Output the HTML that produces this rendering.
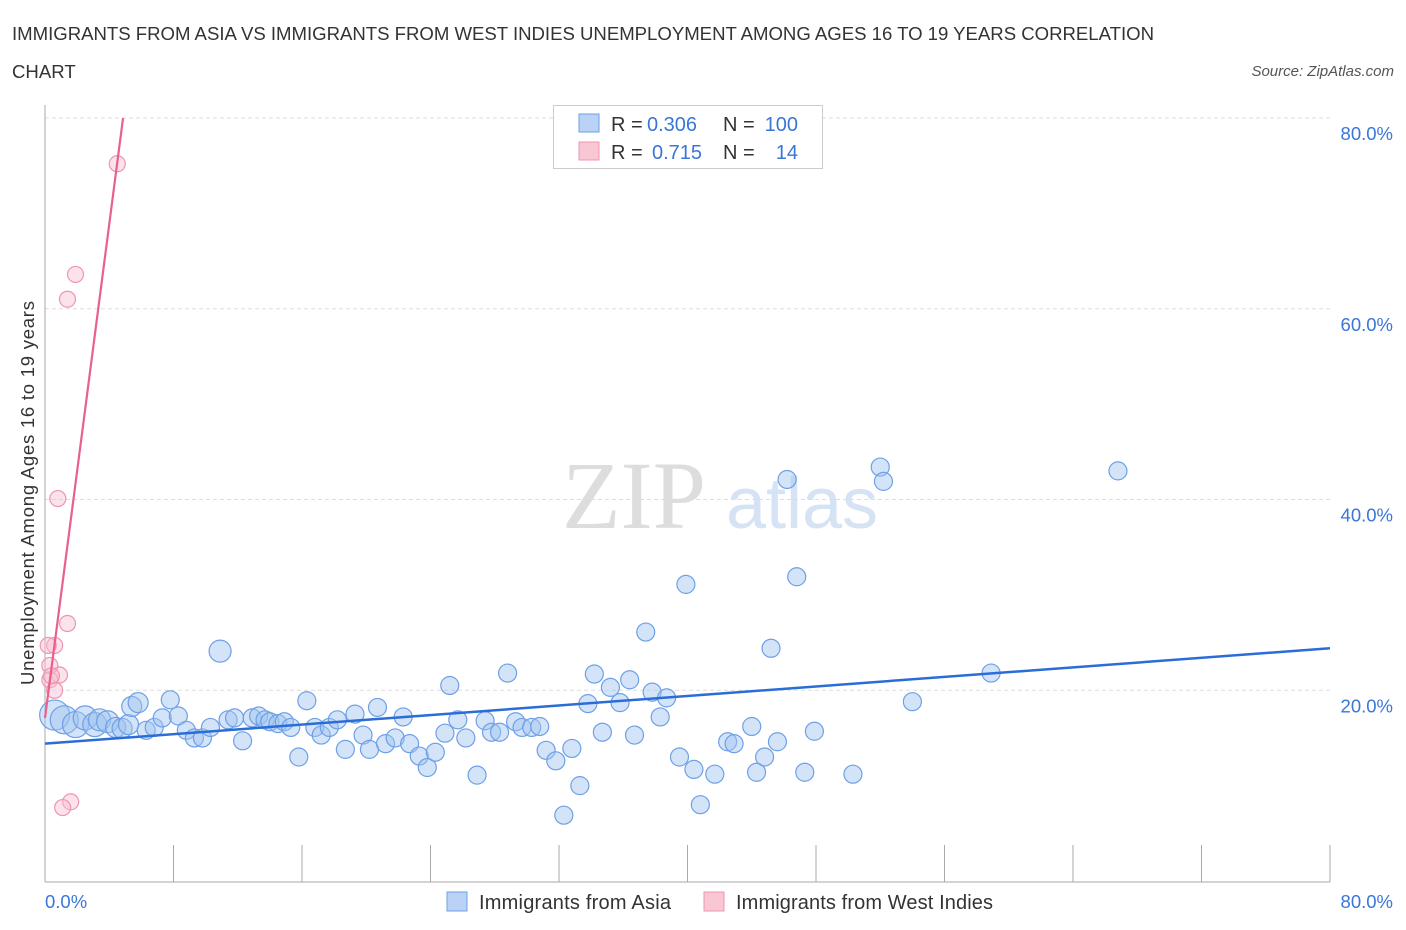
<!DOCTYPE html>
<html><head><meta charset="utf-8"><style>
body{margin:0;background:#fff;font-family:"Liberation Sans",sans-serif}
svg{display:block}
</style></head><body>
<svg id="chart" width="1406" height="930">
<text x="12" y="40" font-size="18.6" fill="#333" textLength="1142">IMMIGRANTS FROM ASIA VS IMMIGRANTS FROM WEST INDIES UNEMPLOYMENT AMONG AGES 16 TO 19 YEARS CORRELATION</text>
<text x="12" y="78" font-size="18.6" fill="#333">CHART</text>
<text x="1394" y="76" font-size="15" fill="#555" font-style="italic" text-anchor="end">Source: ZipAtlas.com</text>
<text x="634" y="528" font-size="96" fill="#ddd" font-family="Liberation Serif,serif" text-anchor="middle">ZIP</text>
<text x="802" y="528" font-size="72" fill="#d6e3f5" text-anchor="middle">atlas</text>
<text transform="translate(34,493) rotate(-90)" font-size="18.5" fill="#333" text-anchor="middle" textLength="384">Unemployment Among Ages 16 to 19 years</text>
<g id="grid"></g><g id="marks"></g>
<g>
<rect x="553.5" y="105.5" width="269" height="63" fill="#fff" stroke="#ccc"/>
<rect x="579" y="114" width="20" height="18" fill="#b9d2f5" stroke="#6ea0e6"/>
<rect x="579" y="142" width="20" height="18" fill="#f9c6d4" stroke="#ee95b1"/>
<g font-size="20" fill="#333">
<text x="611" y="131">R =</text>
<text x="647" y="131" fill="#3a76d8">0.306</text>
<text x="723" y="131">N =</text>
<text x="798" y="131" fill="#3a76d8" text-anchor="end">100</text>
<text x="611" y="159">R =</text>
<text x="652" y="159" fill="#3a76d8">0.715</text>
<text x="723" y="159">N =</text>
<text x="798" y="159" fill="#3a76d8" text-anchor="end">14</text>
</g>
</g>
<g>
<rect x="447" y="892" width="20" height="19" fill="#b9d2f5" stroke="#6ea0e6"/>
<text x="479" y="909" font-size="20" fill="#333" textLength="192">Immigrants from Asia</text>
<rect x="704" y="892" width="20" height="19" fill="#f9c6d4" stroke="#ee95b1"/>
<text x="736" y="909" font-size="20" fill="#333" textLength="257">Immigrants from West Indies</text>
</g>
</svg>
<script>
const asiaX=[0.6,1.2,1.9,2.5,3.1,3.4,3.9,4.4,4.8,5.2,5.4,5.8,6.3,6.8,7.3,7.8,8.3,8.8,9.3,9.8,10.3,10.9,11.4,11.8,12.3,12.9,13.3,13.7,14.0,14.5,14.9,15.3,15.8,16.3,16.8,17.2,17.7,18.2,18.7,19.3,19.8,20.2,20.7,21.2,21.8,22.3,22.7,23.3,23.8,24.3,24.9,25.2,25.7,26.2,26.9,27.4,27.8,28.3,28.8,29.3,29.7,30.3,30.8,31.2,31.8,32.3,32.8,33.3,33.8,34.2,34.7,35.2,35.8,36.4,36.7,37.4,37.8,38.3,38.7,39.5,39.9,40.4,40.8,41.7,42.5,42.9,44.0,44.3,44.8,45.2,45.6,46.2,46.8,47.3,47.9,50.3,52.0,52.2,54.0,58.9,66.8];
const asiaY=[17.4,16.9,16.4,17.1,16.4,16.9,16.7,16.1,16.0,16.4,18.3,18.7,15.8,16.1,17.1,19.0,17.3,15.8,15.0,15.0,16.1,24.1,16.9,17.1,14.7,17.1,17.3,16.9,16.7,16.5,16.7,16.1,13.0,18.9,16.1,15.3,16.1,16.9,13.8,17.5,15.3,13.8,18.2,14.4,15.0,17.2,14.4,13.1,11.9,13.5,15.5,20.5,16.9,15.0,11.1,16.8,15.6,15.6,21.8,16.7,16.1,16.1,16.2,13.7,12.6,6.9,13.9,10.0,18.6,21.7,15.6,20.3,18.7,21.1,15.3,26.1,19.8,17.2,19.2,13.0,31.1,11.7,8.0,11.2,14.6,14.4,16.2,11.4,13.0,24.4,14.6,42.1,31.9,11.4,15.7,11.2,43.4,41.9,18.8,21.8,43.0];
const asiaR=[15,14,13,12,12,11,11,10,10,10,10,10,9,9,9,9,9,9,9,9,9,11,9,9,9,9,9,9,9,9,9,9,9,9,9,9,9,9,9,9,9,9,9,9,9,9,9,9,9,9,9,9,9,9,9,9,9,9,9,9,9,9,9,9,9,9,9,9,9,9,9,9,9,9,9,9,9,9,9,9,9,9,9,9,9,9,9,9,9,9,9,9,9,9,9,9,9,9,9,9,9];
const wiX=[4.5,1.9,1.4,0.8,1.4,0.6,0.2,0.9,0.3,0.3,0.6,1.6,1.1,0.4];
const wiY=[75.2,63.6,61.0,40.1,27.0,24.7,24.7,21.6,21.1,22.6,20.0,8.3,7.7,21.5];
const asiaTrend=[[0,14.4],[80,24.4]];
const wiTrend=[[0,17.1],[4.86,80]];
const yTicks=[20,40,60,80];
const yTickLabels=["20.0%","40.0%","60.0%","80.0%"];
const xTicks=[0,8,16,24,32,40,48,56,64,72,80];

const X=v=>45+v*(1285/80), Y=v=>881-v*(763/80);
const NS="http://www.w3.org/2000/svg";
function mk(tag,attrs,parent){const e=document.createElementNS(NS,tag);for(const k in attrs)e.setAttribute(k,attrs[k]);parent.appendChild(e);return e;}
const grid=document.getElementById('grid'), marks=document.getElementById('marks');
yTicks.forEach((t,i)=>{
 const l=mk('line',{x1:45,x2:1330,y1:Y(t),y2:Y(t),stroke:'#ddd','stroke-dasharray':'4,3'},grid);
 
 
 const tx=mk('text',{x:1393,y:Y(t)+22,'font-size':18.5,fill:'#3a76d8','text-anchor':'end'},grid);
 tx.textContent=yTickLabels[i];
 
 
});
const ax=mk('line',{x1:45,x2:45,y1:105,y2:882,stroke:'#aaa'},grid);


const bx=mk('line',{x1:45,x2:1330,y1:882,y2:882,stroke:'#aaa'},grid);


xTicks.forEach(t=>{
 const l=mk('line',{x1:X(t),x2:X(t),y1:845,y2:882,stroke:'#aaa'},grid);
 
 
});
const xl0=mk('text',{x:45,y:908,'font-size':18.5,fill:'#3a76d8'},grid);xl0.textContent='0.0%';


const xl1=mk('text',{x:1393,y:908,'font-size':18.5,fill:'#3a76d8','text-anchor':'end'},grid);xl1.textContent='80.0%';


asiaX.forEach((v,i)=>{
 const c=mk('circle',{cx:X(v),cy:Y(asiaY[i]),r:asiaR[i],fill:'rgba(160,196,240,0.45)',stroke:'#6ea0e6','stroke-width':1.2},marks);
 
 
});
wiX.forEach((v,i)=>{
 const c=mk('circle',{cx:X(v),cy:Y(wiY[i]),r:8,fill:'rgba(248,190,208,0.45)',stroke:'#ee95b1','stroke-width':1.2},marks);
 
 
});
const t1=mk('line',{x1:X(asiaTrend[0][0]),y1:Y(asiaTrend[0][1]),x2:X(asiaTrend[1][0]),y2:Y(asiaTrend[1][1]),stroke:'#2a6dd6','stroke-width':2.5},marks);


const t2=mk('line',{x1:X(wiTrend[0][0]),y1:Y(wiTrend[0][1]),x2:X(wiTrend[1][0]),y2:Y(wiTrend[1][1]),stroke:'#e8608e','stroke-width':2.2},marks);


</script>
</body></html>
